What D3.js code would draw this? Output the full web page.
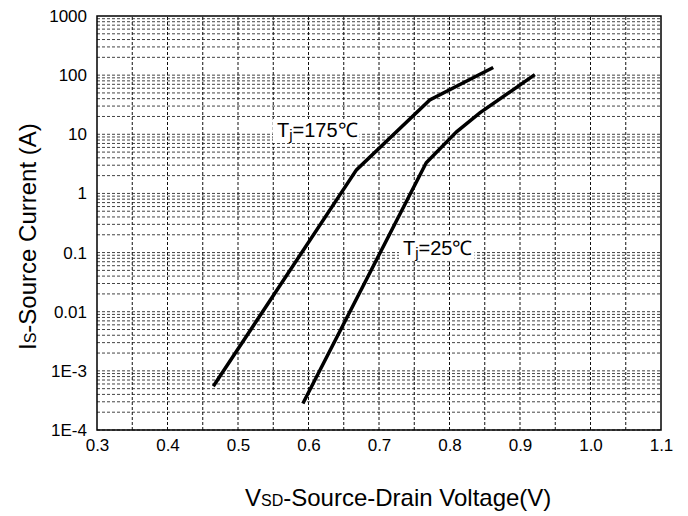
<!DOCTYPE html>
<html>
<head>
<meta charset="utf-8">
<script src="https://cdn.jsdelivr.net/npm/d3@7"></script>
<style>
  body { margin: 0; background: #fff; }
  text { font-family: Arial, "Liberation Sans", sans-serif; }
</style>
</head>
<body>
<script>
    'use strict';

    var width = 688;
    var height = 516;
    var margin = { top: 16, right: 27, bottom: 86, left: 97 };

    // curve data
    var vsd175 = [0.465, 0.668, 0.772, 0.862];
    var is175 = [5.5e-4, 2.5, 38, 135];
    var vsd25 = [0.592, 0.767, 0.81, 0.843, 0.921];
    var is25 = [2.8e-4, 3.3, 11, 23, 102];

    var xTicks = [0.3, 0.4, 0.5, 0.6, 0.7, 0.8, 0.9, 1.0, 1.1];
    var yTicks = [1e-4, 1e-3, 0.01, 0.1, 1, 10, 100, 1000];
    var yTickLabels = ['1E-4', '1E-3', '0.01', '0.1', '1', '10', '100', '1000'];

    var svg = d3.select('body').append('svg')
        .attr('width', width)
        .attr('height', height);

    var x = d3.scaleLinear().domain([0.3, 1.1]).range([margin.left, width - margin.right]);
    var y = d3.scaleLog().domain([1e-4, 1000]).range([height - margin.bottom, margin.top]);

    // horizontal grid: every log step
    var hLines = [];
    yTicks.forEach(function (d) {
        if (d >= 1000) { return; }
        for (var k = 1; k < 10; k++) { hLines.push(d * k); }
    });
    svg.append('g').selectAll('line')
        .data(hLines)
      .enter().append('line')
        .attr('x1', x(0.3)).attr('x2', x(1.1))
        .attr('y1', function (d) { return y(d); })
        .attr('y2', function (d) { return y(d); })
        .style('stroke', '#444')
        .style('stroke-width', 1)
        .style('stroke-dasharray', '3,2');

    // vertical grid every 0.05
    var vLines = d3.range(1, 16).map(function (i) { return 0.3 + i * 0.05; });
    svg.append('g').selectAll('line')
        .data(vLines)
      .enter().append('line')
        .attr('x1', function (d) { return x(d); })
        .attr('x2', function (d) { return x(d); })
        .attr('y1', y(1e-4)).attr('y2', y(1000))
        .style('stroke', '#111')
        .style('stroke-width', 1)
        .style('stroke-dasharray', '3,2');

    svg.append('rect')
        .attr('x', x(0.3)).attr('y', y(1000))
        .attr('width', x(1.1) - x(0.3))
        .attr('height', y(1e-4) - y(1000))
        .style('fill', 'none')
        .style('stroke', '#000')
        .style('stroke-width', 1.5);

    var xAxis = svg.append('g')
        .attr('transform', 'translate(0,' + y(1e-4) + ')')
        .call(d3.axisBottom(x).tickValues(xTicks).tickSize(0).tickPadding(9)
            .tickFormat(d3.format('.1f')));
    xAxis.select('.domain').remove();
    xAxis.selectAll('text').style('font-size', '17px').style('fill', '#000');

    var yAxis = svg.append('g')
        .attr('transform', 'translate(' + x(0.3) + ',0)')
        .call(d3.axisLeft(y).tickValues(yTicks).tickSize(0).tickPadding(10)
            .tickFormat(function (d, i) { return yTickLabels[i]; }));
    yAxis.select('.domain').remove();
    yAxis.selectAll('text').style('font-size', '17px').style('fill', '#000');

    var line = d3.line()
        .x(function (d) { return x(d[0]); })
        .y(function (d) { return y(d[1]); });

    [d3.zip(vsd175, is175), d3.zip(vsd25, is25)].forEach(function (pts) {
        svg.append('path')
            .datum(pts)
            .attr('d', line)
            .style('fill', 'none')
            .style('stroke', '#000')
            .style('stroke-width', 3.5);
    });

    function tjLabel (px, py, temp) {
        var g = svg.append('g');
        var bg = g.append('rect').style('fill', '#fff');
        var t = g.append('text')
            .attr('x', px).attr('y', py)
            .style('font-size', '20px')
            .style('fill', '#000');
        t.append('tspan').text('T');
        t.append('tspan').attr('dy', 3).style('font-size', '15px').text('j');
        t.append('tspan').attr('dy', -3).text('=' + temp + '\u2103');
        var b = t.node().getBBox();
        bg.attr('x', b.x - 4).attr('y', b.y).attr('width', b.width + 6).attr('height', b.height);
    }
    tjLabel(277, 137, '175');
    tjLabel(403, 255, '25');

    var xt = svg.append('text')
        .attr('x', 245).attr('y', 506)
        .style('font-size', '24px');
    xt.append('tspan').text('V');
    xt.append('tspan').style('font-size', '16px').text('SD');
    xt.append('tspan').text('-Source-Drain Voltage(V)');

    var yt = svg.append('text')
        .attr('transform', 'translate(36,350) rotate(-90)')
        .style('font-size', '24px');
    yt.append('tspan').text('I');
    yt.append('tspan').style('font-size', '16px').text('S');
    yt.append('tspan').text('-Source Current (A)');
</script>
</body>
</html>
